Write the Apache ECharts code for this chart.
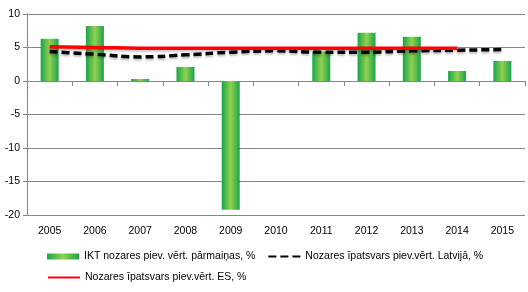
<!DOCTYPE html>
<html>
<head>
<meta charset="utf-8">
<script src="https://cdn.jsdelivr.net/npm/echarts@6/dist/echarts.min.js"></script>
<style>
  html, body { margin: 0; padding: 0; background: #fff; }
  #chart { width: 528px; height: 292px; }
</style>
</head>
<body>
<div id="chart"></div>
<script>
const years = ['2005', '2006', '2007', '2008', '2009', '2010', '2011', '2012', '2013', '2014', '2015']
const iktChange = [6.3, 8.2, 0.3, 2.1, -19.2, null, 4.4, 7.2, 6.6, 1.5, 3.0]
const shareLatvia = [4.4, 4.0, 3.6, 3.9, 4.3, 4.5, 4.3, 4.3, 4.5, 4.6, 4.7]
const shareEU = [5.1, 5.0, 4.9, 4.9, 4.9, 4.9, 4.9, 4.9, 4.9, 4.9, null]

const names = [
  'IKT nozares piev. vērt. pārmaiņas, %',
  'Nozares īpatsvars piev.vērt. Latvijā, %',
  'Nozares īpatsvars piev.vērt. ES, %'
]

const font = 'Liberation Sans'
const gridColor = '#868686'
const noSymbol = { color: 'transparent', borderWidth: 0 }

const chart = echarts.init(document.getElementById('chart'))

const legendText = { fontFamily: font, fontSize: 10.5, color: '#000' }

const option = {
  animation: false,
  textStyle: { fontFamily: font },
  grid: { left: 27, right: 3, top: 14, bottom: 77 },
  legend: [
    {
      data: [
        { name: names[0], icon: 'rect' },
        { name: names[1], itemStyle: noSymbol }
      ],
      left: 47, top: 251, padding: 0,
      itemWidth: 32, itemHeight: 6, itemGap: 12,
      textStyle: legendText
    },
    {
      data: [{ name: names[2], itemStyle: noSymbol }],
      left: 47, top: 272, padding: 0,
      itemWidth: 32, itemHeight: 6,
      textStyle: legendText
    }
  ],
  xAxis: [
    {
      type: 'category',
      data: years,
      position: 'bottom',
      axisLine: { show: false, onZero: false },
      axisTick: { show: false },
      axisLabel: { color: '#000', fontSize: 10.5, fontFamily: font, margin: 11 }
    },
    {
      type: 'category',
      data: years,
      position: 'bottom',
      axisLine: { onZero: true, lineStyle: { color: gridColor, width: 1 } },
      axisTick: { show: true, inside: false, length: 5, lineStyle: { color: gridColor } },
      axisLabel: { show: false }
    }
  ],
  yAxis: {
    type: 'value',
    min: -20, max: 10, interval: 5,
    axisLine: { show: true, lineStyle: { color: gridColor } },
    axisTick: { show: true, length: 4, lineStyle: { color: gridColor } },
    axisLabel: { color: '#000', fontSize: 10.5, fontFamily: font, margin: 7 },
    splitLine: { lineStyle: { color: gridColor, width: 1 } }
  },
  series: [
    {
      name: names[0],
      type: 'bar',
      data: iktChange,
      barWidth: 18,
      itemStyle: {
        color: new echarts.graphic.LinearGradient(0, 0, 1, 0, [
          { offset: 0, color: '#18a54a' },
          { offset: 0.5, color: '#92d050' },
          { offset: 1, color: '#18a54a' }
        ])
      }
    },
    {
      name: names[1],
      type: 'line',
      data: shareLatvia,
      smooth: true,
      symbol: 'none',
      lineStyle: {
        color: '#000', width: 3.5, type: [8, 4],
        shadowColor: 'rgba(0,0,0,0.25)', shadowBlur: 2, shadowOffsetY: 2
      },
      itemStyle: { color: '#000' },
      z: 3
    },
    {
      name: names[2],
      type: 'line',
      data: shareEU,
      smooth: true,
      symbol: 'none',
      lineStyle: {
        color: '#ff0000', width: 3.5,
        shadowColor: 'rgba(0,0,0,0.2)', shadowBlur: 2, shadowOffsetY: 2
      },
      itemStyle: { color: '#ff0000' },
      z: 4
    }
  ]
}

chart.setOption(option)
</script>
</body>
</html>
